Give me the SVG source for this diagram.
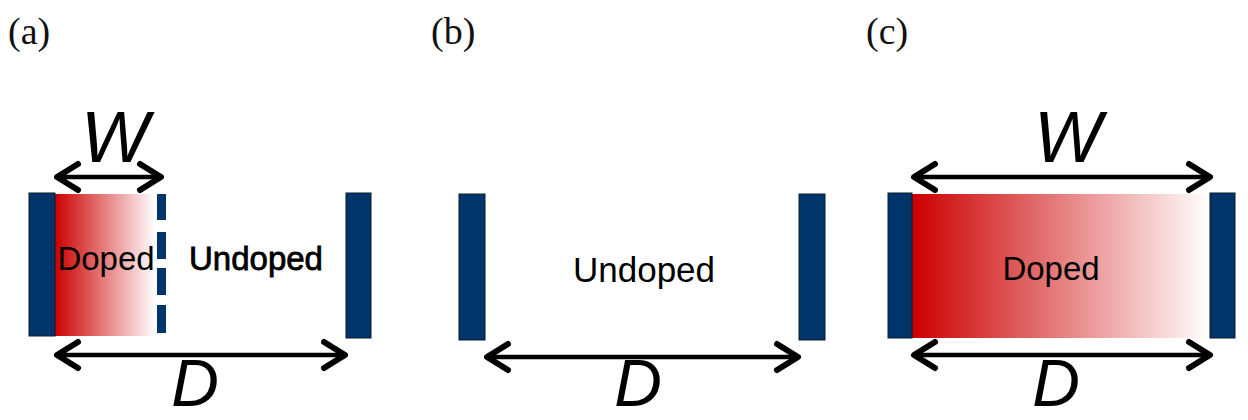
<svg xmlns="http://www.w3.org/2000/svg" width="1248" height="420" viewBox="0 0 1248 420">
<defs>
<style>
.el{fill:#00356b;stroke:#0a1a2a;stroke-width:1}
.lbl{font-family:"Liberation Serif",serif;font-size:38px;fill:#111}
.var{font-family:"Liberation Sans",sans-serif;font-style:italic;font-size:72px;fill:#000;text-anchor:middle}
.vd{font-size:66px}
.txt{font-family:"Liberation Sans",sans-serif;fill:#000;text-anchor:middle}
.arr{stroke:#000;stroke-width:4.5;fill:none;marker-start:url(#ah);marker-end:url(#ah)}
</style>
<linearGradient id="rg" x1="0" y1="0" x2="1" y2="0">
<stop offset="0" stop-color="#cc0000"/>
<stop offset="1" stop-color="#ffffff"/>
</linearGradient>
<marker id="ah" markerUnits="userSpaceOnUse" viewBox="-30 -20 34 40" refX="0" refY="0" markerWidth="34" markerHeight="40" orient="auto-start-reverse" overflow="visible">
<path d="M-21,-13 L0,0 L-21,13" fill="none" stroke="#000" stroke-width="6" stroke-linecap="round" stroke-linejoin="round"/>
</marker>
</defs>
<rect width="1248" height="420" fill="#fff"/>

<g id="labels">
<text class="lbl" x="8" y="44">(a)</text>
<text class="lbl" x="431" y="44">(b)</text>
<text class="lbl" x="866" y="44">(c)</text>
</g>

<g id="panel-a">
<rect x="55" y="194" width="100" height="142" fill="url(#rg)"/>
<rect class="el" x="29" y="193" width="26" height="143"/>
<rect class="el" x="346" y="193" width="25" height="145"/>
<g id="dashed-boundary" fill="#00356b">
<rect x="157" y="194" width="9" height="26"/>
<rect x="157" y="232" width="9" height="27"/>
<rect x="157" y="268" width="9" height="27"/>
<rect x="157" y="305" width="9" height="28"/>
</g>
<text class="txt" x="106" y="270" font-size="33">Doped</text>
<text class="txt" x="256" y="270" font-size="33" stroke="#000" stroke-width="0.8">Undoped</text>
<text class="var" x="115" y="162">W</text>
<text class="var vd" x="195" y="406">D</text>
</g>

<g id="panel-b">
<rect class="el" x="459" y="194" width="26" height="146"/>
<rect class="el" x="799" y="194" width="26" height="146"/>
<text class="txt" x="644" y="282" font-size="35">Undoped</text>
<text class="var vd" x="638" y="406">D</text>
</g>

<g id="panel-c">
<rect x="912" y="194" width="298" height="144" fill="url(#rg)"/>
<rect class="el" x="888" y="193" width="24" height="145"/>
<rect class="el" x="1210" y="193" width="25" height="145"/>
<text class="txt" x="1051" y="280" font-size="33">Doped</text>
<text class="var" x="1068" y="162">W</text>
<text class="var vd" x="1056" y="406">D</text>
</g>

<g id="connectors">
<line class="arr" x1="57" y1="177" x2="161" y2="177"/>
<line class="arr" x1="57" y1="355" x2="345" y2="355"/>
<line class="arr" x1="487" y1="357" x2="798" y2="357"/>
<line class="arr" x1="914" y1="177" x2="1210" y2="177"/>
<line class="arr" x1="914" y1="355" x2="1210" y2="355"/>
</g>
</svg>
